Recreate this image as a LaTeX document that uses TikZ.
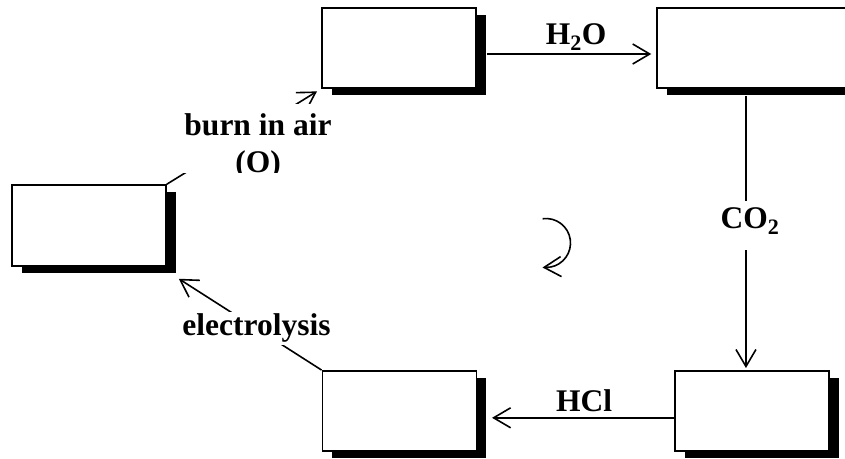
\documentclass[tikz,border=0pt]{standalone}
\usepackage{fontspec}
\setmainfont{Liberation Serif}
\usetikzlibrary{arrows.meta,shadows,calc}
\begin{document}
\begin{tikzpicture}[x=1pt,y=-1pt,
  box/.style={draw, line width=1.5pt, fill=white, minimum width=154pt, minimum height=80pt, inner sep=0pt,
    general shadow={fill=black, shadow xshift=10pt, shadow yshift=-7pt}},
  arr/.style={line width=1.6pt, -{Straight Barb[length=17pt,width=20pt]}},
  lab/.style={font=\fontsize{31.5}{37}\selectfont\bfseries, inner sep=0pt},
]
\useasboundingbox (0,0) rectangle (845,458);

% boxes
\node[box] (A) at (399,48) {};
\node[box, minimum width=203pt] (B) at (758.5,48) {};
\node[box, minimum height=81pt] (C) at (89,225.5) {};
\node[box] (D) at (399.3,410.8) {};
\node[box] (E) at (751.8,410.8) {};

% H2O
\draw[arr, shorten >=5pt] ([xshift=10pt,yshift=-6pt]A.east) -- ([yshift=-6pt]B.west)
  node[lab, pos=0.527, anchor=base, yshift=9.3pt] (h2o) {H\textsubscript{2}O};

% CO2
\draw[arr, shorten >=2pt] ([xshift=89.7pt,yshift=-7pt]B.south west) coordinate (v0) -- (v0 |- E.north)
  node[lab, fill=white, pos=0.483, anchor=base, xshift=4pt, text height=27.6pt, text depth=21.7pt, inner xsep=3pt] (co2) {CO\textsubscript{2}};

% HCl
\draw[arr] ([yshift=-7pt]E.west) -- ([xshift=15pt,yshift=-7pt]D.east)
  node[lab, pos=0.494, anchor=base, yshift=6.3pt] (hcl) {HCl};

% electrolysis
\draw[arr] (D.north west) -- ([xshift=12pt,yshift=-12pt]C.south east)
  node[lab, fill=white, inner sep=2pt, pos=0.456] (elec) {electrolysis};

% burn in air
\draw[arr, shorten >=5pt] (C.north east) -- (A.south west);
\begin{scope}
  \clip (178,104) rectangle (340,172.5);
  \node[lab, fill=white, inner sep=20pt, align=center] (burn) at (258,146.3) {burn in air\\(O)};
\end{scope}

% cycle arrow
\coordinate (cyc) at (546,243);
\draw[line width=1.6pt] ($(cyc)+(-98:24.5)$) arc[start angle=-98, end angle=80, radius=24.5] coordinate (cycend);
\draw[arr] (cycend) -- (542.5,267.5);
\end{tikzpicture}
\end{document}
